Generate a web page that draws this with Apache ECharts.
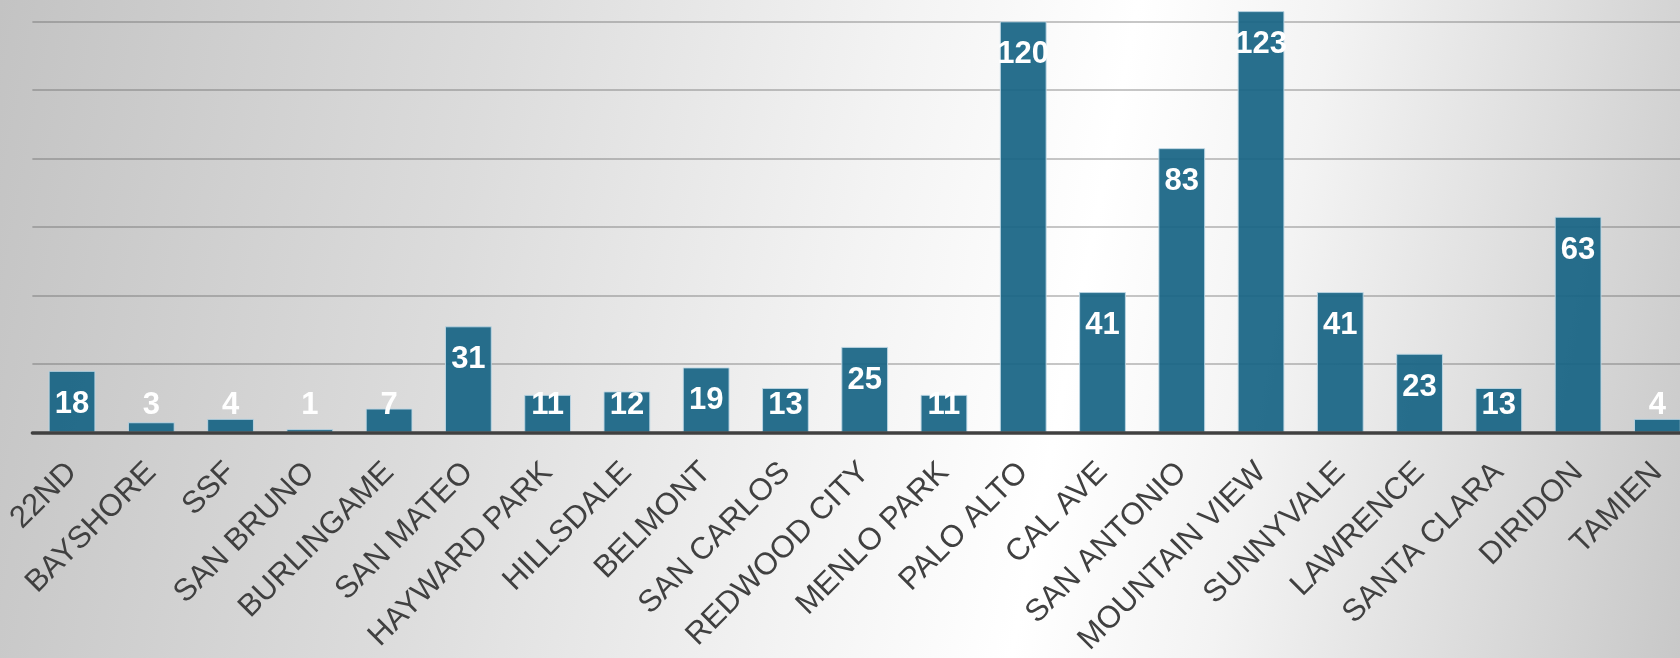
<!DOCTYPE html>
<html>
<head>
<meta charset="utf-8">
<script src="https://cdn.jsdelivr.net/npm/echarts@6/dist/echarts.min.js"></script>
<style>
  html, body { margin: 0; padding: 0; width: 1680px; height: 658px; overflow: hidden; }
  body {
    background: linear-gradient(101deg, #c3c3c3 0%, #dcdcdc 28%, #f3f3f3 50%, #ffffff 63%, #f3f3f3 74%, #c8c8c8 100%);
  }
  /* the plot runs slightly past the right edge of the picture, as in the original */
  #chart { width: 1697px; height: 658px; }
</style>
</head>
<body>
<div id="chart"></div>
<script>
const categories = ['22ND','BAYSHORE','SSF','SAN BRUNO','BURLINGAME','SAN MATEO','HAYWARD PARK','HILLSDALE','BELMONT','SAN CARLOS','REDWOOD CITY','MENLO PARK','PALO ALTO','CAL AVE','SAN ANTONIO','MOUNTAIN VIEW','SUNNYVALE','LAWRENCE','SANTA CLARA','DIRIDON','TAMIEN'];
const values = [18,3,4,1,7,31,11,12,19,13,25,11,120,41,83,123,41,23,13,63,4];
const yMin = 0, yMax = 120, yInterval = 20;

const chart = echarts.init(document.getElementById('chart'), null, { renderer: 'canvas' });

const LABEL_SWITCH = 18; // short bars carry their label at a fixed height above the axis
const seriesData = values.map(v => ({
  value: v,
  label: v >= LABEL_SWITCH
    ? { position: 'insideTop', distance: 18 }
    : { position: 'insideBottom', distance: 12 }
}));

chart.setOption({
  backgroundColor: 'transparent',
  animation: false,
  grid: { left: 32.4, right: 0, top: 21.4, bottom: 225, containLabel: false },
  xAxis: {
    type: 'category',
    data: categories,
    z: 10,
    axisLine: { show: true, lineStyle: { color: '#404040', width: 3.5 } },
    axisTick: { show: false },
    axisLabel: {
      interval: 0,
      rotate: 45,
      align: 'right',
      verticalAlign: 'middle',
      margin: 35,
      color: '#404040',
      fontFamily: 'Liberation Sans, Arial, sans-serif',
      fontSize: 31,
      lineHeight: 31
    },
    splitLine: { show: false }
  },
  yAxis: {
    type: 'value',
    min: yMin,
    max: yMax,
    interval: yInterval,
    axisLine: { show: false },
    axisTick: { show: false },
    axisLabel: { show: false },
    splitLine: { show: true, lineStyle: { color: 'rgba(90,90,90,0.45)', width: 1.5 } }
  },
  series: [{
    type: 'bar',
    data: seriesData,
    clip: false,
    barCategoryGap: '41%',
    itemStyle: {
      color: 'rgba(24,100,132,0.93)',
      borderColor: 'rgba(190,215,228,0.9)',
      borderWidth: 1
    },
    label: {
      show: true,
      color: '#ffffff',
      fontFamily: 'Liberation Sans, Arial, sans-serif',
      fontWeight: 'bold',
      fontSize: 31,
      lineHeight: 31
    }
  }]
});
</script>
</body>
</html>
